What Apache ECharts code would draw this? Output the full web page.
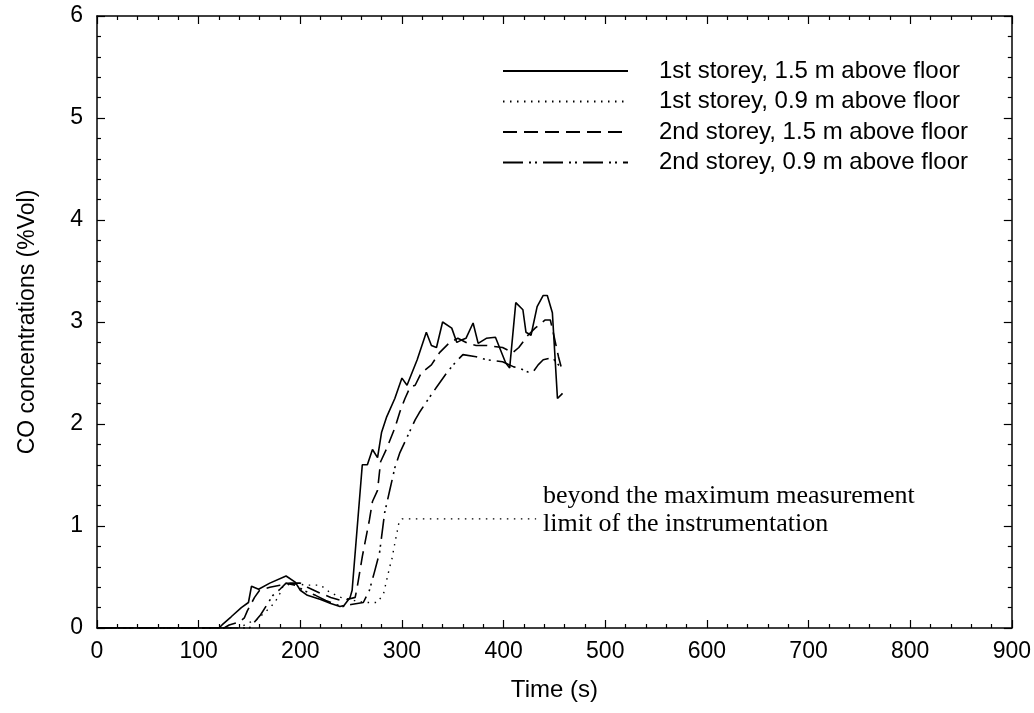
<!DOCTYPE html>
<html>
<head>
<meta charset="utf-8">
<script src="https://cdn.jsdelivr.net/npm/echarts@6/dist/echarts.min.js"></script>
<style>html,body{margin:0;padding:0;background:#fff;}#c{width:1034px;height:713px;}</style>
</head>
<body>
<div id="c"></div>
<script>
var seriesNames = [
  '1st storey, 1.5 m above floor',
  '1st storey, 0.9 m above floor',
  '2nd storey, 1.5 m above floor',
  '2nd storey, 0.9 m above floor'
];
var xTicks = [0, 100, 200, 300, 400, 500, 600, 700, 800, 900];
var yTicks = [0, 1, 2, 3, 4, 5, 6];

var t1 = [0, 120, 123, 132, 142, 149, 152, 159, 170, 186, 195, 200, 207, 220, 230, 239, 243, 249, 251, 261, 266, 271, 276, 280, 285, 293, 300, 305, 315, 324, 329, 334, 340, 349, 354, 358, 363, 370, 375, 383, 392, 402, 406, 412, 419, 422, 427, 433, 439, 443, 448, 453, 458];
var v1 = [0, 0, 0.03, 0.11, 0.2, 0.25, 0.41, 0.38, 0.44, 0.51, 0.45, 0.37, 0.32, 0.28, 0.24, 0.21, 0.22, 0.3, 0.37, 1.6, 1.6, 1.75, 1.67, 1.92, 2.07, 2.25, 2.45, 2.38, 2.63, 2.9, 2.77, 2.75, 3.0, 2.94, 2.8, 2.82, 2.84, 2.99, 2.79, 2.84, 2.85, 2.6, 2.55, 3.19, 3.12, 2.9, 2.87, 3.15, 3.26, 3.26, 3.09, 2.25, 2.3];

var t2 = [0, 140, 149, 157, 168, 175, 180, 183, 190, 198, 207, 220, 229, 240, 253, 263, 276, 282, 285, 288, 290, 293, 297, 300, 432];
var v2 = [0, 0, 0.05, 0.08, 0.18, 0.25, 0.34, 0.41, 0.43, 0.43, 0.42, 0.42, 0.35, 0.3, 0.27, 0.25, 0.25, 0.34, 0.47, 0.6, 0.67, 0.83, 1.03, 1.07, 1.07];

var t3 = [0, 125, 130, 140, 145, 148, 155, 160, 170, 180, 190, 200, 207, 220, 230, 240, 246, 254, 256, 261, 268, 271, 276, 279, 285, 293, 298, 303, 308, 313, 319, 329, 337, 347, 355, 365, 373, 383, 399, 409, 415, 424, 431, 441, 446, 449, 454, 458];
var v3 = [0, 0, 0.03, 0.06, 0.1, 0.17, 0.3, 0.37, 0.4, 0.42, 0.44, 0.44, 0.4, 0.34, 0.3, 0.27, 0.28, 0.3, 0.4, 0.7, 1.06, 1.24, 1.35, 1.63, 1.76, 1.96, 2.12, 2.25, 2.36, 2.38, 2.5, 2.58, 2.7, 2.8, 2.84, 2.79, 2.77, 2.77, 2.75, 2.7, 2.75, 2.87, 2.94, 3.02, 3.02, 2.89, 2.66, 2.51];

var t4 = [0, 150, 161, 173, 180, 186, 195, 205, 215, 225, 235, 242, 250, 262, 268, 273, 278, 283, 288, 293, 298, 305, 313, 317, 327, 334, 344, 353, 360, 373, 383, 399, 410, 415, 424, 429, 434, 439, 448, 454, 458];
var v4 = [0, 0, 0.13, 0.32, 0.38, 0.44, 0.42, 0.36, 0.32, 0.27, 0.23, 0.21, 0.23, 0.25, 0.37, 0.55, 0.74, 1.13, 1.35, 1.57, 1.72, 1.87, 2.04, 2.11, 2.26, 2.36, 2.5, 2.61, 2.68, 2.66, 2.63, 2.61, 2.56, 2.55, 2.51, 2.51, 2.58, 2.63, 2.65, 2.58, 2.55];

var annotation = 'beyond the maximum measurement\nlimit of the instrumentation';

function zip(t, v) { return t.map(function (x, i) { return [x, v[i]]; }); }

var dashTypes = ['solid', [1.5, 5.5], [14, 7], [20, 6, 2, 4, 2, 6]];
var widths = [1.6, 1.4, 1.6, 1.6];
var allT = [t1, t2, t3, t4], allV = [v1, v2, v3, v4];

var font = '"Liberation Sans", Arial, sans-serif';
var axisCommon = {
  axisLine: { show: true, onZero: false, lineStyle: { color: '#000', width: 1.5 } },
  axisTick: { show: true, inside: true, length: 8, lineStyle: { color: '#000', width: 1.2 } },
  minorTick: { show: true, splitNumber: 5, length: 4, lineStyle: { color: '#000', width: 1.2 } },
  splitLine: { show: false },
  minorSplitLine: { show: false }
};

var option = {
  animation: false,
  backgroundColor: '#fff',
  grid: { left: 97, right: 13, top: 16, bottom: 85, containLabel: false },
  xAxis: [
    Object.assign({
      type: 'value', min: xTicks[0], max: xTicks[xTicks.length - 1], interval: xTicks[1] - xTicks[0],
      position: 'bottom',
      name: 'Time (s)', nameLocation: 'middle', nameGap: 50,
      nameTextStyle: { fontFamily: font, fontSize: 24, color: '#000' },
      axisLabel: { fontFamily: font, fontSize: 23, color: '#000', margin: 12 }
    }, axisCommon),
    Object.assign({
      type: 'value', min: xTicks[0], max: xTicks[xTicks.length - 1], interval: xTicks[1] - xTicks[0],
      position: 'top', axisLabel: { show: false }
    }, axisCommon)
  ],
  yAxis: [
    Object.assign({
      type: 'value', min: yTicks[0], max: yTicks[yTicks.length - 1], interval: 1,
      position: 'left',
      name: 'CO concentrations (%Vol)', nameLocation: 'middle', nameGap: 58,
      nameTextStyle: { fontFamily: font, fontSize: 23, color: '#000' },
      axisLabel: { fontFamily: font, fontSize: 23, color: '#000', margin: 14 }
    }, axisCommon),
    Object.assign({
      type: 'value', min: yTicks[0], max: yTicks[yTicks.length - 1], interval: 1,
      position: 'right', axisLabel: { show: false }
    }, axisCommon)
  ],
  legend: {
    orient: 'vertical', left: 497, top: 54,
    itemWidth: 125, itemHeight: 14, itemGap: 6.5,
    itemStyle: { color: 'rgba(0,0,0,0)', borderColor: 'rgba(0,0,0,0)', borderWidth: 0, opacity: 0 },
    textStyle: { fontFamily: font, fontSize: 24, color: '#000', padding: [0, 0, 0, 26] },
    data: seriesNames
  },
  graphic: [{
    type: 'text', left: 543, top: 482,
    style: { text: annotation, font: '26px "Liberation Serif", "Times New Roman", serif', lineHeight: 28, fill: '#000' }
  }],
  series: seriesNames.map(function (n, i) {
    return {
      name: n, type: 'line', xAxisIndex: 0, yAxisIndex: 0,
      data: zip(allT[i], allV[i]),
      symbol: 'none', showSymbol: false,
      lineStyle: { color: '#000', width: widths[i], type: dashTypes[i] },
      itemStyle: { color: '#000' },
      z: 10 - i
    };
  })
};

var chart = echarts.init(document.getElementById('c'), null, { renderer: 'canvas' });
chart.setOption(option);
</script>
</body>
</html>
